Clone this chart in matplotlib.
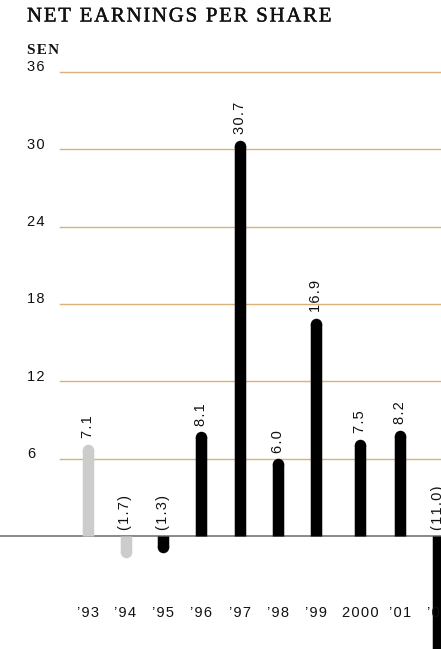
import matplotlib
matplotlib.use('Agg')
import matplotlib.pyplot as plt
import matplotlib.patheffects as pe

# net earnings per share, sen
years = ["\u201993", "\u201994", "\u201995", "\u201996", "\u201997", "\u201998", "\u201999", "2000", "\u201901", "\u201902"]
eps = [7.1, -1.7, -1.3, 8.1, 30.7, 6.0, 16.9, 7.5, 8.2, -11.0]
labels = ["7.1", "(1.7)", "(1.3)", "8.1", "30.7", "6.0", "16.9", "7.5", "8.2", "(11.0)"]
grey_years = ["\u201993", "\u201994"]
gridvals = [6, 12, 18, 24, 30, 36]

W, H = 441, 649
PX = 12.89          # pixels per sen
ZERO = 536          # pixel row of the zero line
slots = [88, 125.5, 163, 201, 240, 278, 316, 360, 400, 438]

fig = plt.figure(figsize=(W / 100, H / 100), dpi=100)
ax = fig.add_axes([0, 0, 1, 1])
ax.set_xlim(0, W)
ax.set_ylim((ZERO - H) / PX, ZERO / PX)
ax.axis('off')

sans = ['Liberation Sans', 'DejaVu Sans']
serif = ['Liberation Serif', 'DejaVu Serif']


def spaced(s):
    # open up the tracking a little with hair spaces
    return '\u200a'.join(s)


# gridlines + tick labels
for g in gridvals:
    ax.plot([60, W], [g, g], color='#dcb078', lw=1.0, zorder=1)
    ax.text(27, g + 4.5 / PX, spaced(str(g)), ha='left', va='center', fontsize=10.5, family=sans, color='#111111')
ax.plot([0, W], [0, 0], color='#808080', lw=1.3, zorder=2)

barw = 11.5  # px
lw = barw * 72 / 100
r = barw / 2 / PX
for x, v, lab, yr in zip(slots, eps, labels, years):
    c = '#cccccc' if yr in grey_years else '#000000'
    sgn = 1 if v >= 0 else -1
    end = v - sgn * r
    ax.plot([x, x], [0, end], color=c, lw=lw, solid_capstyle='butt', zorder=3)
    ax.plot([x], [end], marker='o', ms=lw, color=c, mec='none', zorder=3)
    ty = (v + 6 / PX) if v >= 0 else (6 / PX)
    ax.text(x, ty, spaced(lab), rotation=90, ha='center', va='bottom', fontsize=10.5, family=sans, color='#111111')
    ax.text(x, (ZERO - 613) / PX, spaced(yr), ha='center', va='center', fontsize=10.5, family=sans, color='#111111')

title = fig.text(27 / W, 1 - 17 / H, spaced('NET EARNINGS PER SHARE'), ha='left', va='center', fontsize=15, family=serif, color='#111111')
title.set_path_effects([pe.withStroke(linewidth=0.3, foreground='#111111')])
fig.text(27 / W, 1 - 50 / H, spaced('SEN'), ha='left', va='center', fontsize=11, family=serif, fontweight='bold', color='#111111')

fig.savefig('out.png', dpi=100)
